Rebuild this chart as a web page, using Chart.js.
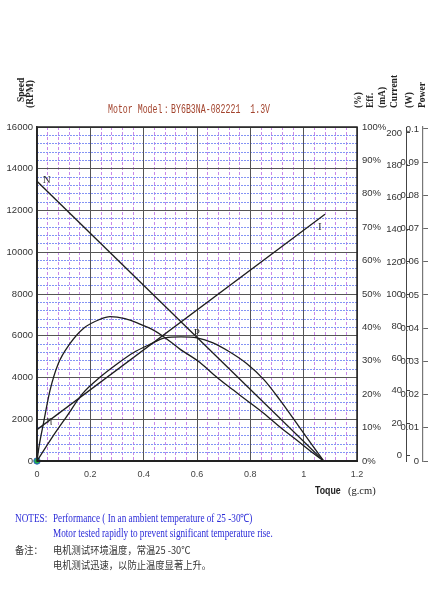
<!DOCTYPE html>
<html><head><meta charset="utf-8">
<script src="https://cdn.jsdelivr.net/npm/chart.js@4.4.1/dist/chart.umd.min.js"></script>
<style>
html,body{margin:0;padding:0;background:#fff;}
#wrap{position:relative;width:442px;height:600px;overflow:hidden;background:#fff;}
#c{position:absolute;left:0;top:0;}
.t{position:absolute;white-space:pre;}
.rot{transform-origin:0 0;transform:rotate(-90deg);font-family:'Liberation Serif',serif;font-weight:bold;font-size:9.5px;color:#222;line-height:8px;}
.note{font-family:'Liberation Serif',serif;font-size:11.5px;color:#2b2bd8;transform-origin:0 50%;transform:scaleX(0.80);line-height:12px;}
.cn{font-family:'Noto Sans CJK SC',sans-serif;font-size:10px;color:#333;transform-origin:0 50%;transform:scaleX(0.93);line-height:12px;}
</style></head><body>
<div id="wrap">
<canvas id="c" width="442" height="600"></canvas>
<div class="t rot" style="left:17px;top:102px;">Speed</div>
<div class="t rot" style="left:26px;top:108px;">(RPM)</div>
<div class="t rot" style="left:354px;top:108px;">(%)</div>
<div class="t rot" style="left:366px;top:108px;">Eff.</div>
<div class="t rot" style="left:378px;top:108px;">(mA)</div>
<div class="t rot" style="left:390px;top:108px;">Current</div>
<div class="t rot" style="left:405px;top:108px;">(W)</div>
<div class="t rot" style="left:418px;top:108px;">Power</div>
<div class="t" style="left:108px;top:104px;font-family:'Liberation Mono',monospace;font-size:12.5px;line-height:13px;color:#a3442e;transform-origin:0 50%;transform:scaleX(0.66);">Motor Model：BY6B3NA-082221  1.3V</div>
<div class="t" style="left:315px;top:485px;font-family:'Liberation Sans Narrow','Liberation Sans',sans-serif;font-weight:bold;font-size:10px;color:#222;transform-origin:0 50%;transform:scaleX(0.88);">Toque</div>
<div class="t" style="left:348px;top:485px;font-family:'Liberation Serif',serif;font-size:10.5px;color:#222;">(g.cm)</div>
<div class="t note" style="left:15px;top:512px;">NOTES:</div>
<div class="t note" style="left:53px;top:512px;">Performance ( In an ambient temperature of 25 -30℃)</div>
<div class="t note" style="left:53px;top:527px;">Motor tested rapidly to prevent significant temperature rise.</div>
<div class="t cn" style="left:15px;top:544px;">备注：</div>
<div class="t cn" style="left:53px;top:544px;">电机测试环境温度，常温25 -30℃</div>
<div class="t cn" style="left:53px;top:559px;">电机测试迅速，以防止温度显著上升。</div>
</div>
<script>
// ---- data ----
const torqueTicks = [0, 0.2, 0.4, 0.6, 0.8, 1, 1.2];
const speedTicks = [0, 2000, 4000, 6000, 8000, 10000, 12000, 14000, 16000];
const effTicks = [0, 10, 20, 30, 40, 50, 60, 70, 80, 90, 100];
const currentTicks = [0, 20, 40, 60, 80, 100, 120, 140, 160, 180, 200];
const powerTicks = [0, 0.01, 0.02, 0.03, 0.04, 0.05, 0.06, 0.07, 0.08, 0.09, 0.1];

const torqueN = [0, 1.075];
const speedN = [13400, 0];

const torqueI = [0, 1.08];
const currentI = [15.9, 149.6];

const torqueE = [0, 0.008, 0.024, 0.049, 0.08, 0.124, 0.174, 0.236, 0.274, 0.33, 0.386, 0.43, 0.474, 0.536, 0.611, 0.661, 0.72, 0.786, 0.85, 0.911, 0.97, 1.036, 1.075];
const effE = [0, 4.5, 11.2, 21.2, 29.2, 35.2, 39.7, 42.4, 43.2, 42.6, 41.0, 39.5, 37.3, 33.5, 29.5, 26.0, 22.2, 18.2, 14.3, 10.2, 6.5, 2.3, 0];

const torqueP = [0, 0.06, 0.111, 0.17, 0.236, 0.3, 0.361, 0.42, 0.48, 0.54, 0.6, 0.66, 0.72, 0.786, 0.85, 0.91, 0.97, 1.03, 1.075];
const powerP = [0, 0.0075, 0.0134, 0.0202, 0.0252, 0.0292, 0.0326, 0.0350, 0.0371, 0.0374, 0.0371, 0.0356, 0.0330, 0.0294, 0.0246, 0.0185, 0.0118, 0.0050, 0];

const curveLabels = ['N', 'I', 'η', 'P'];
const labelTorque = [0.036, 1.061, 0.046, 0.599];
const labelSpeed = [13460, 11206, 1954, 6109];

// ---- helpers ----
const pts = (xs, ys) => xs.map((x, i) => ({x: x, y: ys[i]}));
const setTicks = arr => s => { s.ticks = arr.map(v => ({value: v})); };
const minorList = (max, step, major) => {
  const out = [];
  for (let i = 1; i * step < max - 1e-9; i++) {
    const v = +(i * step).toFixed(6);
    if (Math.abs(v / major - Math.round(v / major)) > 1e-6) out.push(v);
  }
  return out;
};
const tickFont = {family: "'Liberation Sans Narrow','Liberation Sans',Arial,sans-serif", size: 9.5};

const frame = {
  id: 'frame',
  afterDatasetsDraw(chart) {
    const {ctx, chartArea: a, scales} = chart;
    ctx.save();
    ctx.strokeStyle = '#222';
    ctx.lineWidth = 1.5;
    ctx.strokeRect(a.left, a.top, a.right - a.left, a.bottom - a.top);
    ctx.beginPath();
    ctx.lineWidth = 2.2;
    ctx.moveTo(a.left, a.bottom); ctx.lineTo(a.right, a.bottom);
    ctx.stroke();
    ctx.fillStyle = '#333';
    ctx.font = "11px 'Liberation Serif', serif";
    ctx.textAlign = 'center';
    ctx.textBaseline = 'middle';
    curveLabels.forEach((t, i) => {
      ctx.fillText(t, scales.x.getPixelForValue(labelTorque[i]), scales.y.getPixelForValue(labelSpeed[i]));
    });
    ctx.restore();
  }
};

const lineDs = (data, axis) => ({
  data: data, yAxisID: axis, showLine: true, pointRadius: 0,
  borderColor: '#1e1e1e', borderWidth: 1.3, fill: false,
  cubicInterpolationMode: 'monotone'
});

new Chart(document.getElementById('c'), {
  type: 'scatter',
  data: {
    datasets: [
      lineDs(pts(torqueN, speedN), 'y'),
      lineDs(pts(torqueI, currentI), 'cur'),
      lineDs(pts(torqueE, effE), 'eff'),
      lineDs(pts(torqueP, powerP), 'pow'),
      {data: [{x: torqueN[0], y: 0}], yAxisID: 'y', pointRadius: 3.2, backgroundColor: '#22b04a', borderColor: '#2a5cc8', borderWidth: 1, clip: false}
    ]
  },
  options: {
    responsive: false, animation: false, devicePixelRatio: 1,
    layout: {padding: {left: 0, right: 0, top: 127, bottom: 114}},
    plugins: {legend: {display: false}, tooltip: {enabled: false}},
    scales: {
      xMinor: {
        type: 'linear', position: 'bottom', min: 0, max: 1.2, weight: 5,
        afterBuildTicks: setTicks(minorList(1.2, 0.04, 0.2)),
        ticks: {display: false},
        grid: {color: '#c987ea', lineWidth: 1, drawTicks: false},
        border: {display: false, dash: [3, 2]},
        afterFit: s => { s.height = 0; }
      },
      yMinor: {
        type: 'linear', position: 'left', min: 0, max: 16000, weight: 5,
        afterBuildTicks: setTicks(minorList(16000, 400, 2000)),
        ticks: {display: false},
        grid: {color: '#8494f4', lineWidth: 1, drawTicks: false},
        border: {display: false, dash: [2, 1]},
        afterFit: s => { s.width = 0; }
      },
      x: {
        type: 'linear', position: 'bottom', min: 0, max: 1.2, weight: 0,
        afterBuildTicks: setTicks(torqueTicks),
        ticks: {font: {family: tickFont.family, size: 9}, color: '#444', padding: 8, callback: v => String(v)},
        grid: {color: '#555', lineWidth: 1, drawTicks: false},
        border: {color: '#222', width: 2},
        afterFit: s => { s.height = 25; }
      },
      y: {
        type: 'linear', position: 'left', min: 0, max: 16000, weight: 0,
        afterBuildTicks: setTicks(speedTicks),
        ticks: {font: tickFont, color: '#333', padding: 4, callback: v => String(v)},
        grid: {color: '#555', lineWidth: 1, drawTicks: false},
        border: {color: '#333', width: 1.5},
        afterFit: s => { s.width = 37; }
      },
      eff: {
        type: 'linear', position: 'right', min: 0, max: 100, weight: 0,
        afterBuildTicks: setTicks(effTicks),
        ticks: {font: tickFont, color: '#333', padding: 5, callback: v => v + '%'},
        grid: {drawOnChartArea: false, drawTicks: false},
        border: {display: false},
        afterFit: s => { s.width = 49; }
      },
      cur: {
        type: 'linear', position: 'right', min: -3.54, max: 203.7, weight: 1,
        afterBuildTicks: setTicks(currentTicks),
        ticks: {font: tickFont, color: '#333', padding: -4, mirror: true, callback: v => String(v)},
        grid: {drawOnChartArea: false, drawTicks: true, tickLength: 4, color: '#444'},
        border: {display: true, color: '#444', width: 1},
        afterFit: s => { s.width = 17; }
      },
      pow: {
        type: 'linear', position: 'right', min: 0, max: 0.1006, weight: 2,
        afterBuildTicks: setTicks(powerTicks),
        ticks: {font: tickFont, color: '#333', padding: -4, mirror: true, callback: v => String(v)},
        grid: {drawOnChartArea: false, drawTicks: true, tickLength: 5, color: '#666'},
        border: {display: true, color: '#777', width: 1.2},
        afterFit: s => { s.width = 19; }
      }
    }
  },
  plugins: [frame]
});
</script>
</body></html>
